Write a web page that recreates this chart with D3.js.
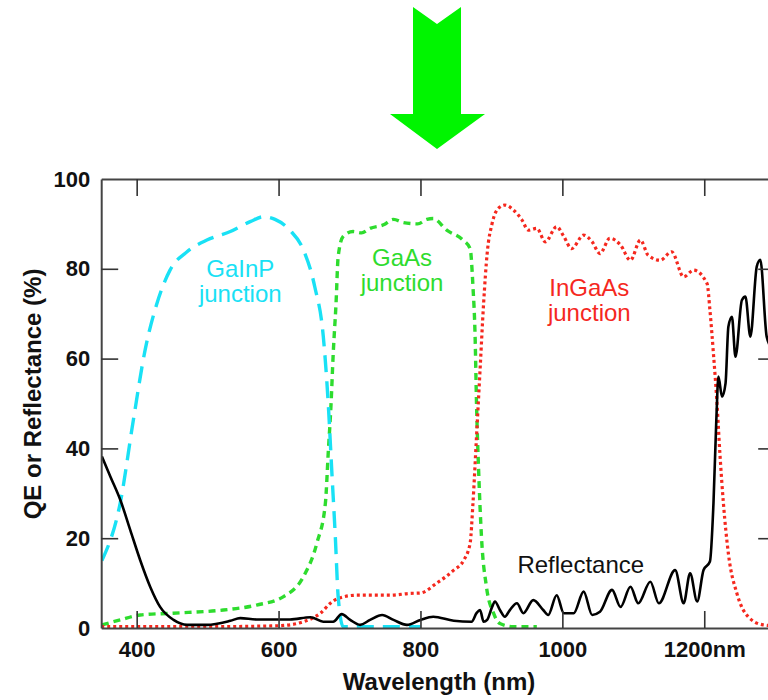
<!DOCTYPE html>
<html>
<head>
<meta charset="utf-8">
<script src="https://cdn.jsdelivr.net/npm/d3@7"></script>
<style>
  html, body { margin: 0; padding: 0; background: #fff; }
  svg { display: block; }
  text { font-family: "Liberation Sans", Arial, Helvetica, sans-serif; }
</style>
</head>
<body>
<svg id="chart" width="768" height="700"></svg>
<script>
// Quantum efficiency of each junction of a triple-junction cell, plus front reflectance.
// Each entry: [wavelength (nm), percent]
const gainpQE = [
  [351,15],[377,28],[395,46],[412,62],[428,72],[447,79.7],[471,83.8],[499,86.4],
  [532,88.3],[560,90.5],[579,91.6],[595,91],[616,88.6],[635,84.2],[651,76],[663,65],
  [670,50],[675,35],[680,20.3],[684,7],[691,0.3],[740,0.3],[800,0.3]
];
const gaasQE = [
  [351,0.7],[377,1.8],[405,2.9],[451,3.3],[522,4],[569,5.1],[607,7],[635,11.4],
  [654,18.9],[666,27.8],[670,39],[674,50],[677,61],[681,72.3],[684,82.7],[691,87.2],
  [705,88.3],[717,88],[729,89],[748,89.8],[762,91],[776,90.3],[796,90],[809,91],
  [818,91.2],[837,88.6],[860,86.4],[870,84.5],[874,76],[877,65],[879,50],[882,35],
  [886,20.3],[893,9.2],[903,3.3],[912,1],[931,0.3],[964,0.3]
];
const ingaasQE = [
  [350,0.3],[500,0.3],[600,0.5],[635,1.4],[659,3.3],[673,5.5],[684,6.6],[710,7.3],
  [757,7.3],[785,7.7],[800,7.8],[823,10],[847,12.9],[861,15.1],[870,18.9],[874,27.8],
  [879,42.6],[884,57.5],[889,72.3],[894,83.4],[901,90.1],[910,93.5],[919,94.2],
  [931,93.1],[943,90.9],[952,88.6],[964,89],[976,86],[992,89.4],[1002,87.2],[1013,84.5],
  [1030,87.5],[1042,86],[1053,83.4],[1067,86.8],[1082,85.3],[1096,81.9],[1110,86.4],
  [1121,83],[1138,81.9],[1154,83.8],[1171,78.2],[1185,79.7],[1204,76.7],[1208,70.8],
  [1213,61],[1218,50],[1222,39],[1227,27.8],[1234,16.6],[1246,7.7],[1262,2.5],
  [1283,0.7],[1300,0.5]
];
const reflectance = [
  [351,38.2],[363,33.7],[377,28.5],[391,21.8],[405,15.1],[419,9.2],[433,4.7],[452,1.8],
  [471,0.7],[499,0.7],[532,1.6],[546,2.2],[569,1.9],[616,1.9],[645,2.4],[663,1.4],
  [677,1.4],[689,3.1],[701,1.8],[715,0.7],[729,1.8],[746,2.9],[762,1.8],[781,0.7],
  [800,1.8],[818,2.5],[847,1.6],[872,1.4],[879,3.3],[884,4],[889,1.4],[894,1.8],
  [901,4.7],[905,5.9],[912,4],[919,2.5],[926,4],[936,5.5],[945,3.3],[959,6.2],[973,4],
  [980,2.9],[992,7.3],[1002,3.3],[1016,3.3],[1030,8.1],[1042,2.9],[1053,3.6],[1070,8.5],
  [1082,4.7],[1096,9.2],[1107,5.5],[1124,10.3],[1136,5.5],[1159,12.9],[1171,5.5],
  [1180,12.2],[1190,5.9],[1199,12.9],[1208,14.8],[1213,27.8],[1217,46.3],[1220,56],
  [1225,51.5],[1230,54.5],[1234,67.1],[1239,69.3],[1244,60.4],[1253,73],[1258,73.8],
  [1265,64.9],[1274,80.5],[1279,82],[1288,64.9],[1296,62],[1300,61]
];

const xTicks = [400, 600, 800, 1000, 1200];
const xTickLabels = ["400", "600", "800", "1000", "1200nm"];
const yTicks = [0, 20, 40, 60, 80, 100];

// Curve labels: text lines anchored at a wavelength / percent position
const curveLabels = [
  { lines: ["GaInP", "junction"], nm: 546, val: 78.2, color: "#19e1f5" },
  { lines: ["GaAs", "junction"], nm: 774, val: 80.6, color: "#2edc2e" },
  { lines: ["InGaAs", "junction"], nm: 1038, val: 74.0, color: "#f5281e" },
  { lines: ["Reflectance"], nm: 1026, val: 12.2, color: "#111" }
];

const svg = d3.select("#chart");
const W = 768, H = 700;
const plot = { left: 101.2, right: 775.2, top: 179, bottom: 628 };

svg.append("rect").attr("width", W).attr("height", H).attr("fill", "#fff");

// Big green arrow above the chart
const arrow = [[413,7],[437,24],[461,7],[461,114],[485,114],[437,149],[390,114],[413,114]];
svg.append("polygon")
  .attr("points", arrow.map(p => p.join(",")).join(" "))
  .attr("fill", "#00f500");

const x = d3.scaleLinear().domain([350, 1300]).range([plot.left, plot.right]);
const y = d3.scaleLinear().domain([0, 100]).range([plot.bottom, plot.top]);

svg.append("clipPath").attr("id", "plotclip")
  .append("rect")
  .attr("x", plot.left).attr("y", plot.top - 2)
  .attr("width", plot.right - plot.left).attr("height", plot.bottom - plot.top + 2);

const line = d3.line()
  .x(d => x(d[0]))
  .y(d => y(d[1]))
  .curve(d3.curveMonotoneX);

const series = [
  { data: gaasQE, color: "#2edc2e", width: 3.4, dash: "7,5" },
  { data: ingaasQE, color: "#f5281e", width: 3.2, dash: "3,3" },
  { data: gainpQE, color: "#19e1f5", width: 3.4, dash: "17,9" },
  { data: reflectance, color: "#000", width: 2.6, dash: null }
];

const g = svg.append("g").attr("clip-path", "url(#plotclip)");
series.forEach(s => {
  g.append("path")
    .datum(s.data)
    .attr("d", line)
    .attr("fill", "none")
    .attr("stroke", s.color)
    .attr("stroke-width", s.width)
    .attr("stroke-dasharray", s.dash)
    .attr("stroke-linejoin", "round");
});

// Frame with inward ticks on all four sides
const tickLen = 17;
const axisStyle = sel => {
  sel.select(".domain").attr("stroke", "#444").attr("stroke-width", 2);
  sel.selectAll(".tick line").attr("stroke", "#333").attr("stroke-width", 1.6);
  sel.selectAll(".tick text")
    .attr("fill", "#111")
    .style("font-size", "22px")
    .style("font-weight", "bold")
    .style("font-family", "'Liberation Sans', Arial, Helvetica, sans-serif");
};

svg.append("g")
  .attr("transform", `translate(0,${plot.bottom})`)
  .call(d3.axisBottom(x).tickValues(xTicks)
    .tickFormat((d, i) => xTickLabels[i])
    .tickSizeInner(-tickLen).tickSizeOuter(0).tickPadding(13))
  .call(axisStyle);

svg.append("g")
  .attr("transform", `translate(0,${plot.top})`)
  .call(d3.axisTop(x).tickValues(xTicks).tickFormat("")
    .tickSizeInner(-tickLen).tickSizeOuter(0))
  .call(axisStyle);

svg.append("g")
  .attr("transform", `translate(${plot.left},0)`)
  .call(d3.axisLeft(y).tickValues(yTicks)
    .tickSizeInner(-tickLen).tickSizeOuter(0).tickPadding(11))
  .call(axisStyle);

svg.append("g")
  .attr("transform", `translate(${plot.right},0)`)
  .call(d3.axisRight(y).tickValues(yTicks).tickFormat("")
    .tickSizeInner(-tickLen).tickSizeOuter(0))
  .call(axisStyle);

// Zero tick lines sit on the frame; hide them so the corners stay clean
svg.selectAll(".tick").filter(d => d === 0 || d === 100).select("line").attr("opacity", 0);

// Axis titles
svg.append("text")
  .attr("x", 439).attr("y", 690)
  .attr("text-anchor", "middle")
  .style("font-size", "24px").style("font-weight", "bold")
  .attr("fill", "#111")
  .text("Wavelength (nm)");

svg.append("text")
  .attr("transform", "translate(41,394) rotate(-90)")
  .attr("text-anchor", "middle")
  .style("font-size", "24px").style("font-weight", "bold")
  .attr("fill", "#111")
  .text("QE or Reflectance (%)");

// Curve labels
curveLabels.forEach(l => {
  const t = svg.append("text")
    .attr("text-anchor", "middle")
    .style("font-size", "24px")
    .attr("fill", l.color);
  l.lines.forEach((s, i) => {
    t.append("tspan")
      .attr("x", x(l.nm))
      .attr("y", y(l.val) + i * 25)
      .text(s);
  });
});
</script>
</body>
</html>
